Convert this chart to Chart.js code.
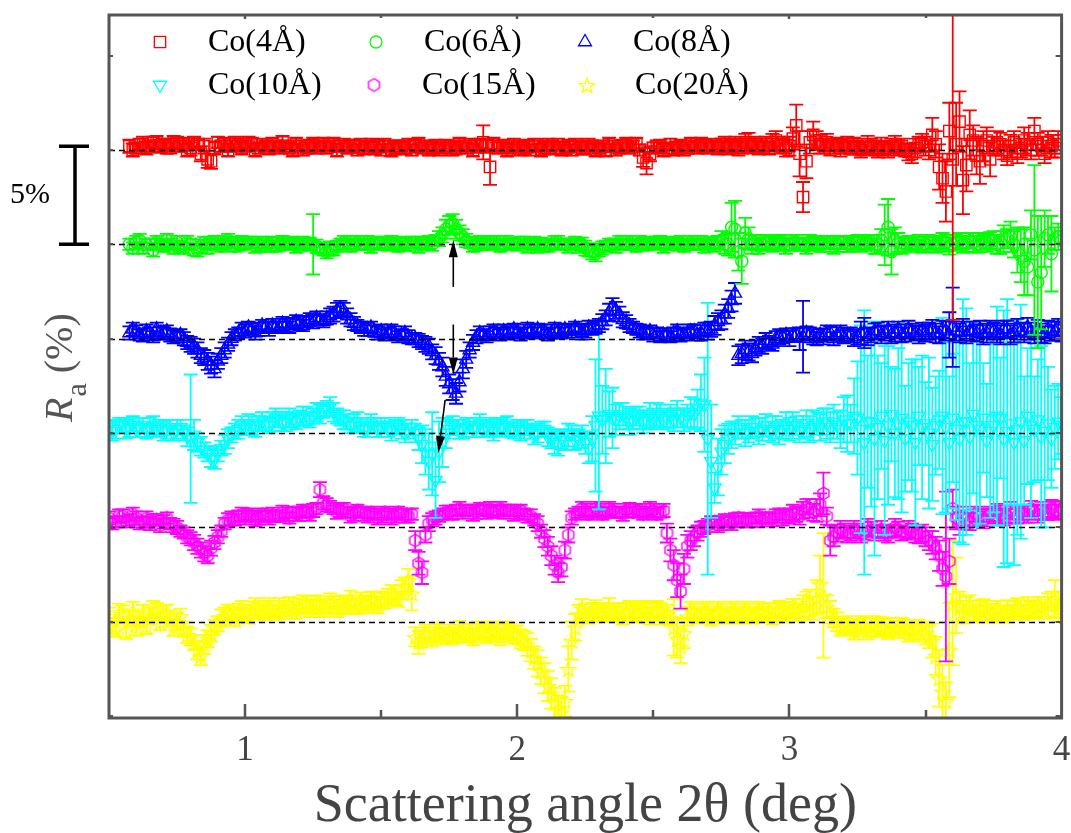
<!DOCTYPE html>
<html><head><meta charset="utf-8">
<script src="https://cdn.jsdelivr.net/npm/chart.js@4.4.1/dist/chart.umd.min.js"></script>
<style>html,body{margin:0;padding:0;background:#fff;}#wrap{width:1071px;height:833px;position:relative;}</style>
</head><body><div id="wrap"><canvas id="c"></canvas></div>
<script>
// ---------------- data ----------------
// two interleaved measurement grids (2θ in degrees)
const angle2theta = [
0.5,0.525,0.55,0.575,0.6,0.625,0.65,0.675,0.7,0.725,
0.75,0.775,0.8,0.825,0.85,0.875,0.9,0.925,0.95,0.975,
1,1.025,1.05,1.075,1.1,1.125,1.15,1.175,1.2,1.225,
1.25,1.275,1.3,1.325,1.35,1.375,1.4,1.425,1.45,1.475,
1.5,1.525,1.55,1.575,1.6,1.625,1.65,1.675,1.7,1.725,
1.75,1.775,1.8,1.825,1.85,1.875,1.9,1.925,1.95,1.975,
2,2.025,2.05,2.075,2.1,2.125,2.15,2.175,2.2,2.225,
2.25,2.275,2.3,2.325,2.35,2.375,2.4,2.425,2.45,2.475,
2.5,2.525,2.55,2.575,2.6,2.625,2.65,2.675,2.7,2.725,
2.75,2.775,2.8,2.825,2.85,2.875,2.9,2.925,2.95,2.975,
3,3.025,3.05,3.075,3.1,3.125,3.15,3.175,3.2,3.225,
3.25,3.275,3.3,3.325,3.35,3.375,3.4,3.425,3.45,3.475,
3.5,3.525,3.55,3.575,3.6,3.625,3.65,3.675,3.7,3.725,
3.75,3.775,3.8,3.825,3.85,3.875,3.9,3.925,3.95,3.975,
4];
const angle2thetaB = [
0.5125,0.5375,0.5625,0.5875,0.6125,0.6375,0.6625,0.6875,0.7125,0.7375,
0.7625,0.7875,0.8125,0.8375,0.8625,0.8875,0.9125,0.9375,0.9625,0.9875,
1.0125,1.0375,1.0625,1.0875,1.1125,1.1375,1.1625,1.1875,1.2125,1.2375,
1.2625,1.2875,1.3125,1.3375,1.3625,1.3875,1.4125,1.4375,1.4625,1.4875,
1.5125,1.5375,1.5625,1.5875,1.6125,1.6375,1.6625,1.6875,1.7125,1.7375,
1.7625,1.7875,1.8125,1.8375,1.8625,1.8875,1.9125,1.9375,1.9625,1.9875,
2.0125,2.0375,2.0625,2.0875,2.1125,2.1375,2.1625,2.1875,2.2125,2.2375,
2.2625,2.2875,2.3125,2.3375,2.3625,2.3875,2.4125,2.4375,2.4625,2.4875,
2.5125,2.5375,2.5625,2.5875,2.6125,2.6375,2.6625,2.6875,2.7125,2.7375,
2.7625,2.7875,2.8125,2.8375,2.8625,2.8875,2.9125,2.9375,2.9625,2.9875,
3.0125,3.0375,3.0625,3.0875,3.1125,3.1375,3.1625,3.1875,3.2125,3.2375,
3.2625,3.2875,3.3125,3.3375,3.3625,3.3875,3.4125,3.4375,3.4625,3.4875,
3.5125,3.5375,3.5625,3.5875,3.6125,3.6375,3.6625,3.6875,3.7125,3.7375,
3.7625,3.7875,3.8125,3.8375,3.8625,3.8875,3.9125,3.9375,3.9625,3.9875];

const seriesNames = ['Co(4Å)','Co(6Å)','Co(8Å)','Co(10Å)','Co(15Å)','Co(20Å)'];
const seriesOffsets = [25,20,15,10,5,0];   // vertical shift of each curve (%)

// ---- Co(4Å)
const co4 = [
null,null,null,0.2,0.1,0.3,0.2,0.4,0.3,0.2,
0.4,0.3,0.1,0.3,0.2,-0.6,0.4,0.3,0.2,0.3,
0.2,0.3,0.1,0.2,0.3,0.1,0.2,0.0,0.2,0.1,
0.3,0.2,0.1,0.3,0.2,0.1,0.2,0.3,0.2,0.1,
0.0,0.2,0.1,0.2,0.3,0.2,0.1,0.0,0.2,0.1,
0.2,0.1,0.2,0.3,0.2,0.4,-0.9,0.1,0.2,0.1,
0.2,0.1,0.0,0.2,0.1,0.2,0.3,0.1,0.0,0.2,
0.1,0.2,0.1,0.0,0.2,0.1,0.3,0.2,0.0,-0.7,
0.1,0.2,0.1,0.0,0.2,0.1,0.2,0.3,0.1,0.2,
0.2,0.1,0.3,0.2,0.4,0.3,0.2,0.1,0.5,0.3,
0.2,1.3,-2.5,0.4,0.5,0.2,0.1,0.3,0.2,0.1,
0.2,0.1,0.2,0.0,0.1,0.2,0.1,0.0,-0.2,0.3,
0.2,0.8,-0.9,-2.2,-0.5,1.5,-0.8,0.5,-0.6,0.5,
0.2,0.3,-0.3,0.4,0.1,0.3,1.0,0.2,0.4,0.1,
0.3];
const co4Err = [
null,null,null,0.35,0.3,0.4,0.3,0.35,0.3,0.4,
0.3,0.35,0.4,0.3,0.4,0.4,0.3,0.35,0.3,0.3,
0.3,0.35,0.3,0.3,0.35,0.3,0.3,0.35,0.3,0.3,
0.35,0.3,0.3,0.35,0.3,0.3,0.35,0.3,0.3,0.35,
0.3,0.3,0.35,0.3,0.3,0.35,0.3,0.3,0.35,0.3,
0.3,0.35,0.3,0.3,0.35,0.9,0.95,0.3,0.35,0.3,
0.3,0.35,0.3,0.3,0.35,0.3,0.3,0.35,0.3,0.3,
0.35,0.3,0.3,0.35,0.3,0.3,0.35,0.3,0.3,0.6,
0.3,0.35,0.3,0.3,0.35,0.3,0.3,0.35,0.3,0.3,
0.4,0.35,0.4,0.4,0.5,0.4,0.4,0.35,0.5,0.4,
0.5,1.1,0.8,0.6,0.5,0.4,0.4,0.35,0.4,0.35,
0.4,0.35,0.4,0.4,0.35,0.4,0.4,0.35,0.5,0.4,
0.5,0.9,1.2,1.6,8.5,1.6,1.4,0.8,1.2,0.7,
0.5,0.6,0.5,0.6,0.5,0.6,0.7,0.5,0.6,0.5,
0.5];
const co4B = [
null,null,null,0.0,0.3,0.1,0.4,0.2,0.1,0.4,
0.2,0.0,0.4,-0.2,-0.5,0.1,0.2,0.0,0.4,0.1,
0.4,0.0,0.3,0.1,0.2,0.4,0.1,0.3,0.0,0.2,
0.1,0.3,0.2,0.0,0.3,0.2,0.0,0.1,0.3,0.2,
0.3,0.0,0.2,0.1,0.0,0.3,0.2,0.1,0.0,0.2,
0.0,0.3,0.1,0.0,0.3,0.2,0.3,0.2,0.0,0.3,
0.0,0.2,0.3,0.0,0.3,0.1,0.0,0.2,0.3,0.1,
0.3,0.0,0.2,0.3,0.0,0.2,0.1,0.3,-0.4,-0.2,
0.2,0.0,0.3,0.1,0.0,0.3,0.1,0.2,0.3,0.1,
0.3,0.2,0.1,0.4,0.2,0.1,0.3,0.4,0.2,0.1,
0.6,-0.2,-0.6,0.8,0.3,0.4,0.2,0.1,0.3,0.2,
0.0,0.3,0.1,0.2,0.0,0.3,0.2,-0.1,0.1,0.4,
0.0,0.3,-1.5,1.0,0.3,-1.6,0.8,-0.3,0.2,-0.5,
0.4,0.0,0.2,-0.2,0.5,0.0,0.3,-0.2,0.2,0.5];
const co4BErr = [
null,null,null,0.35,0.3,0.35,0.3,0.35,0.3,0.35,
0.3,0.35,0.3,0.4,0.45,0.35,0.3,0.35,0.3,0.35,
0.3,0.35,0.3,0.35,0.3,0.35,0.3,0.35,0.3,0.35,
0.3,0.35,0.3,0.35,0.3,0.35,0.3,0.35,0.3,0.35,
0.3,0.35,0.3,0.35,0.3,0.35,0.3,0.35,0.3,0.35,
0.3,0.35,0.3,0.35,0.3,0.35,0.35,0.3,0.35,0.3,
0.3,0.35,0.3,0.35,0.3,0.35,0.3,0.35,0.3,0.35,
0.3,0.35,0.3,0.35,0.3,0.35,0.3,0.35,0.5,0.4,
0.3,0.35,0.3,0.35,0.3,0.35,0.3,0.35,0.3,0.35,
0.4,0.35,0.4,0.45,0.4,0.35,0.4,0.45,0.4,0.45,
0.6,1.2,0.9,0.7,0.5,0.45,0.4,0.45,0.4,0.45,
0.4,0.45,0.4,0.45,0.4,0.45,0.4,0.45,0.5,0.45,
0.5,0.7,1.3,1.5,2.2,1.8,1.3,1.0,0.8,0.9,
0.6,0.5,0.6,0.5,0.7,0.5,0.6,0.5,0.6,0.5];

// ---- Co(6Å)
const co6 = [
null,null,null,0.0,0.1,-0.2,0.0,0.1,-0.1,0.0,
0.1,-0.2,0.0,-0.3,0.1,0.0,0.1,0.0,0.1,0.0,
0.0,0.1,0.0,-0.1,0.1,0.0,0.0,0.1,0.0,0.0,
0.0,-0.2,-0.4,-0.3,0.0,0.1,0.0,0.0,0.1,0.0,
0.1,0.0,0.0,0.1,0.0,0.1,0.0,0.1,0.2,0.5,
1.0,0.8,0.4,0.1,0.0,0.1,0.0,0.1,0.0,0.0,
0.0,0.1,0.0,-0.1,0.0,0.0,0.1,0.0,0.0,-0.1,
-0.2,-0.4,-0.3,-0.1,0.0,0.1,0.0,0.0,0.1,0.0,
0.0,0.1,0.0,0.0,0.1,0.0,0.0,0.1,0.0,0.0,
0.2,0.0,0.8,-0.9,0.3,0.1,0.0,0.1,0.0,0.1,
0.0,0.1,0.0,0.1,0.0,0.0,0.1,0.0,0.1,0.0,
0.1,0.0,0.1,0.0,0.5,-0.4,0.1,0.0,0.0,0.1,
0.0,0.1,0.0,0.1,0.0,0.2,0.0,0.1,0.0,0.1,
0.2,0.1,0.3,0.0,-0.6,-1.2,-0.3,-1.5,0.5,0.3,
0.2];
const co6Err = [
null,null,null,0.3,0.35,0.3,0.3,0.35,0.3,0.3,
0.35,0.3,0.3,0.35,0.3,0.3,0.35,0.3,0.3,0.35,
0.3,0.3,0.35,0.3,0.3,0.35,0.3,0.3,0.35,0.3,
1.6,0.3,0.35,0.3,0.3,0.35,0.3,0.3,0.35,0.3,
0.3,0.35,0.3,0.3,0.35,0.3,0.3,0.35,0.3,0.4,
0.5,0.5,0.4,0.3,0.35,0.3,0.3,0.35,0.3,0.3,
0.35,0.3,0.3,0.35,0.3,0.3,0.35,0.3,0.3,0.35,
0.4,0.4,0.35,0.3,0.3,0.35,0.3,0.3,0.35,0.3,
0.3,0.35,0.3,0.3,0.35,0.3,0.3,0.35,0.3,0.4,
0.5,0.6,1.5,1.2,0.6,0.4,0.35,0.4,0.35,0.4,
0.35,0.4,0.35,0.4,0.35,0.4,0.35,0.4,0.35,0.4,
0.4,0.35,0.4,0.5,1.6,1.2,0.5,0.4,0.35,0.4,
0.4,0.35,0.4,0.4,0.35,0.4,0.4,0.5,0.4,0.5,
0.5,0.6,0.5,0.7,1.4,1.5,4.5,3.0,1.0,0.6,
0.5];
const co6B = [
null,null,null,-0.2,0.2,0.0,-0.3,0.0,0.2,-0.2,
-0.1,0.1,-0.3,-0.1,-0.2,0.1,-0.1,0.2,-0.1,0.1,
0.1,-0.1,0.1,0.0,-0.1,0.1,0.0,-0.1,0.1,0.0,
-0.1,-0.3,-0.2,-0.1,0.1,-0.1,0.1,0.0,-0.1,0.1,
0.0,0.1,-0.1,0.0,0.1,-0.1,0.1,0.0,0.3,0.8,
1.1,0.6,0.2,-0.1,0.1,0.0,0.1,-0.1,0.1,0.0,
0.1,-0.1,0.1,0.0,-0.1,0.1,0.0,-0.1,0.1,0.0,
-0.3,-0.5,-0.2,0.0,-0.1,0.0,0.1,-0.1,0.0,0.1,
0.1,-0.1,0.1,0.0,-0.1,0.1,0.0,-0.1,0.1,0.1,
0.0,0.9,-0.4,0.6,0.0,-0.1,0.1,0.0,0.1,-0.1,
0.1,0.0,-0.1,0.1,0.0,0.1,-0.1,0.1,0.0,0.1,
0.0,0.1,-0.1,0.2,0.9,0.2,-0.1,0.1,0.0,-0.1,
0.1,0.0,0.2,-0.1,0.1,0.0,0.2,0.0,0.1,0.2,
0.0,0.3,0.4,-0.3,-0.9,0.5,-2.0,0.3,-0.5,0.4];
const co6BErr = [
null,null,null,0.3,0.35,0.3,0.35,0.3,0.35,0.3,
0.3,0.35,0.3,0.35,0.3,0.35,0.3,0.35,0.3,0.35,
0.3,0.35,0.3,0.35,0.3,0.35,0.3,0.35,0.3,0.35,
0.35,0.3,0.35,0.3,0.35,0.3,0.35,0.3,0.35,0.3,
0.3,0.35,0.3,0.35,0.3,0.35,0.3,0.35,0.4,0.5,
0.5,0.4,0.35,0.3,0.35,0.3,0.35,0.3,0.35,0.3,
0.3,0.35,0.3,0.35,0.3,0.35,0.3,0.35,0.3,0.35,
0.35,0.4,0.35,0.3,0.35,0.3,0.35,0.3,0.35,0.3,
0.3,0.35,0.3,0.35,0.3,0.35,0.3,0.35,0.3,0.35,
0.5,1.3,1.0,0.8,0.5,0.4,0.35,0.4,0.35,0.4,
0.4,0.35,0.4,0.35,0.4,0.35,0.4,0.35,0.4,0.35,
0.4,0.35,0.4,0.6,1.5,0.7,0.4,0.35,0.4,0.35,
0.4,0.45,0.4,0.45,0.4,0.45,0.4,0.45,0.4,0.45,
0.5,0.7,0.8,1.2,1.8,1.3,3.5,1.5,2.0,0.7];

// ---- Co(8Å)
const co8 = [
null,null,null,0.3,0.4,0.2,0.3,0.5,0.3,0.2,
0.1,0.0,-0.3,-0.6,-1.0,-1.4,-1.2,-0.6,0.0,0.3,
0.4,0.5,0.5,0.6,0.7,0.6,0.7,0.8,0.8,0.9,
0.9,1.0,1.1,1.3,1.6,1.2,0.8,0.6,0.5,0.4,
0.4,0.3,0.3,0.2,0.1,0.0,-0.2,-0.4,-0.9,-1.5,
-2.4,-2.9,-1.6,-0.6,0.1,0.2,0.3,0.3,0.4,0.3,
0.4,0.3,0.4,0.5,0.4,0.3,0.4,0.5,0.4,0.5,
0.4,0.5,0.7,1.1,1.7,1.3,0.9,0.6,0.4,0.3,
0.2,0.1,0.2,0.3,0.2,0.3,0.4,0.3,0.4,0.7,
1.0,1.6,2.4,-0.8,-0.7,-0.5,-0.4,-0.2,0.0,0.1,
0.0,0.2,0.1,0.2,0.0,0.1,0.3,0.2,0.1,0.2,
0.1,0.3,0.2,0.4,0.3,0.2,0.5,0.3,0.4,0.2,
0.3,0.5,0.2,0.4,0.6,0.3,0.2,0.4,0.5,0.3,
0.4,0.2,0.5,0.3,0.4,0.6,0.2,0.3,0.5,0.4,
0.3];
const co8Err = [
null,null,null,0.35,0.3,0.35,0.3,0.35,0.3,0.35,
0.3,0.35,0.4,0.4,0.4,0.45,0.4,0.4,0.35,0.3,
0.35,0.3,0.35,0.3,0.35,0.3,0.35,0.3,0.35,0.3,
0.35,0.3,0.35,0.4,0.4,0.4,0.35,0.3,0.35,0.3,
0.35,0.3,0.35,0.3,0.35,0.3,0.35,0.4,0.45,0.5,
0.5,0.55,0.5,0.4,0.35,0.3,0.35,0.3,0.35,0.3,
0.35,0.3,0.35,0.3,0.35,0.3,0.35,0.3,0.35,0.3,
0.35,0.3,0.35,0.4,0.45,0.4,0.35,0.3,0.35,0.3,
0.35,0.3,0.35,0.3,0.35,0.3,0.35,0.4,0.45,0.5,
0.5,0.5,0.55,0.5,0.45,0.4,0.4,0.35,0.4,0.35,
0.4,0.35,1.9,0.4,0.35,0.4,0.35,0.4,0.35,0.4,
0.4,0.8,0.4,0.45,0.4,0.45,0.4,0.45,0.4,0.45,
0.45,0.5,0.45,0.5,2.1,0.5,0.45,0.5,0.45,0.5,
0.45,0.5,0.45,0.5,0.45,0.5,0.45,0.5,0.45,0.5,
0.45];
const co8B = [
null,null,null,0.5,0.2,0.4,0.1,0.3,0.4,0.1,
0.2,-0.2,-0.4,-0.9,-1.2,-1.6,-0.9,-0.3,0.2,0.5,
0.6,0.3,0.7,0.5,0.6,0.8,0.6,0.9,0.7,1.0,
1.1,0.9,1.2,1.5,1.5,1.0,0.7,0.5,0.6,0.3,
0.2,0.4,0.1,0.3,0.0,-0.1,-0.3,-0.7,-1.2,-2.0,
-2.7,-2.3,-1.1,-0.2,0.3,0.1,0.4,0.2,0.3,0.5,
0.2,0.5,0.3,0.4,0.2,0.5,0.3,0.4,0.6,0.3,
0.6,0.6,0.9,1.4,1.5,1.0,0.7,0.5,0.3,0.4,
0.3,0.2,0.1,0.4,0.2,0.4,0.2,0.5,0.5,0.9,
1.3,2.0,-0.9,-0.6,-0.8,-0.3,-0.1,-0.3,0.1,0.2,
0.2,0.0,0.3,0.1,0.2,0.3,0.0,0.3,0.2,0.0,
0.3,0.1,0.4,0.2,0.5,0.3,0.2,0.5,0.3,0.4,
0.4,0.3,0.5,0.2,0.4,0.6,0.4,0.3,0.2,0.5,
0.3,0.5,0.2,0.6,0.3,0.4,0.5,0.2,0.4,0.6];
const co8BErr = [
null,null,null,0.35,0.3,0.35,0.3,0.35,0.3,0.35,
0.3,0.35,0.4,0.4,0.45,0.45,0.4,0.35,0.3,0.35,
0.3,0.35,0.3,0.35,0.3,0.35,0.3,0.35,0.3,0.35,
0.35,0.3,0.4,0.4,0.4,0.35,0.3,0.35,0.3,0.35,
0.3,0.35,0.3,0.35,0.3,0.35,0.4,0.4,0.45,0.5,
0.55,0.5,0.45,0.4,0.35,0.3,0.35,0.3,0.35,0.3,
0.3,0.35,0.3,0.35,0.3,0.35,0.3,0.35,0.3,0.35,
0.35,0.35,0.4,0.45,0.45,0.4,0.35,0.3,0.35,0.3,
0.3,0.35,0.3,0.35,0.3,0.35,0.3,0.35,0.4,0.45,
0.5,0.55,0.5,0.5,0.45,0.4,0.4,0.35,0.4,0.35,
0.35,0.6,0.35,0.4,0.35,0.4,0.35,0.4,0.35,0.4,
0.6,0.45,0.4,0.45,0.4,0.45,0.4,0.45,0.4,0.45,
0.45,0.5,0.45,1.2,0.5,0.45,0.5,0.45,0.5,0.45,
0.5,0.45,0.5,0.45,0.5,0.45,0.5,0.45,0.5,0.45];

// ---- Co(10Å)
const co10 = [
0.3,0.2,0.4,0.3,0.2,0.4,0.3,0.2,0.1,0.3,
0.2,0.0,-0.3,-0.5,-0.9,-1.3,-1.1,-0.6,-0.1,0.2,
0.3,0.4,0.5,0.5,0.6,0.7,0.6,0.7,0.8,0.9,
0.9,1.0,1.3,1.1,0.8,0.6,0.5,0.4,0.3,0.4,
0.3,0.2,0.3,0.2,0.1,0.0,-0.6,-1.5,-2.5,-0.5,
0.2,0.3,0.2,0.4,0.3,0.2,0.3,0.4,0.3,0.2,
0.3,0.2,0.1,0.0,0.2,-0.3,-0.6,-0.4,0.0,-0.3,
-0.5,-0.3,0.9,0.9,0.8,0.9,0.8,0.7,0.8,0.7,
0.8,0.9,0.8,0.7,0.8,0.9,1.0,1.6,-0.3,-2.9,
-1.0,-0.3,0.0,0.2,0.1,0.3,0.2,0.1,0.3,0.2,
0.2,0.4,0.3,0.2,0.5,0.6,0.3,0.4,0.7,0.5,
0.8,-0.5,0.6,0.3,-0.4,1.0,0.5,-0.3,0.4,0.9,
0.5,-0.6,0.7,0.3,0.8,-0.3,0.6,1.0,0.2,-0.4,
0.4,0.8,0.1,-0.5,0.6,0.9,0.2,-0.2,0.5,0.3,
0.4];
const co10Err = [
0.4,0.5,0.4,0.5,0.4,0.4,0.5,0.4,0.5,0.4,
0.5,0.4,3.4,0.5,0.4,0.5,0.4,0.5,0.4,0.5,
0.4,0.5,0.4,0.4,0.5,0.4,0.5,0.4,0.4,0.5,
0.4,0.5,0.4,0.5,0.4,0.4,0.5,0.4,0.5,0.4,
0.5,0.4,0.4,0.5,0.4,0.5,1.0,1.5,2.0,1.3,
0.5,0.4,0.5,0.4,0.5,0.4,0.5,0.4,0.5,0.4,
0.4,0.5,0.4,0.5,0.4,0.5,0.6,0.5,0.4,0.5,
0.6,1.2,4.95,2.5,1.6,0.7,0.6,0.5,0.6,0.5,
0.5,0.6,0.5,0.6,0.5,0.6,0.8,1.5,7.2,0.8,
1.2,0.8,0.6,0.5,0.6,0.5,0.6,0.5,0.6,0.5,
0.6,0.5,0.6,0.7,0.6,0.7,0.8,0.7,1.2,1.0,
3.0,7.0,4.5,3.8,5.0,2.5,4.0,2.8,3.5,2.6,
2.2,3.0,2.6,4.5,3.4,5.5,6.0,4.2,5.0,3.0,
4.6,3.2,7.0,6.5,6.2,3.6,2.8,4.8,3.0,2.2,
1.5];
const co10B = [
0.1,0.4,0.2,0.5,0.3,0.1,0.4,0.3,0.2,0.0,
0.3,-0.2,-0.1,-0.7,-1.1,-1.4,-0.8,-0.3,0.1,0.4,
0.5,0.2,0.6,0.4,0.8,0.5,0.8,0.6,0.9,0.7,
1.1,1.2,1.4,0.9,0.7,0.4,0.6,0.2,0.5,0.2,
0.4,0.1,0.4,0.0,0.3,-0.3,-1.0,-1.1,-1.0,0.0,
0.4,0.1,0.3,0.2,0.5,0.3,0.1,0.3,0.4,0.1,
0.1,0.3,-0.1,0.2,-0.2,-0.5,-0.3,-0.1,-0.4,-0.2,
-0.8,0.4,0.7,1.0,0.7,1.0,0.6,0.9,0.6,0.9,
1.0,0.7,0.9,1.0,0.7,1.1,1.3,1.5,-1.5,-1.8,
-0.6,-0.1,0.3,0.0,0.3,0.1,0.4,0.2,0.0,0.4,
0.4,0.1,0.5,0.4,0.3,0.5,0.6,0.2,0.5,0.9,
0.2,0.6,-0.3,0.9,0.4,0.0,0.8,0.6,-0.5,0.3,
0.0,0.4,0.9,-0.5,0.2,0.6,-0.2,0.4,0.8,0.1,
0.9,-0.3,0.5,0.2,-0.4,0.4,0.7,0.1,-0.3,0.6];
const co10BErr = [
0.5,0.4,0.5,0.4,0.5,0.4,0.5,0.4,0.5,0.4,
0.4,0.5,0.8,0.5,0.4,0.5,0.4,0.5,0.4,0.5,
0.5,0.4,0.5,0.4,0.5,0.4,0.5,0.4,0.5,0.4,
0.5,0.4,0.5,0.4,0.5,0.4,0.5,0.4,0.5,0.4,
0.4,0.5,0.4,0.5,0.4,0.6,1.2,2.2,1.6,0.8,
0.5,0.4,0.5,0.4,0.5,0.4,0.5,0.4,0.5,0.4,
0.5,0.4,0.5,0.4,0.5,0.6,0.5,0.6,0.5,0.6,
0.8,3.5,1.8,1.2,0.8,0.6,0.7,0.5,0.6,0.7,
0.6,0.5,0.6,0.7,0.6,0.8,1.0,2.5,3.0,1.5,
1.0,0.7,0.6,0.7,0.6,0.7,0.6,0.7,0.6,0.7,
0.7,0.6,0.7,0.8,0.7,0.8,0.9,1.0,1.5,2.0,
5.5,3.5,6.2,2.8,4.2,3.4,5.0,3.1,4.4,3.8,
4.0,2.6,5.2,3.5,4.8,6.5,3.9,5.4,2.9,4.6,
5.8,6.8,4.3,5.6,3.4,4.9,3.2,5.1,2.6,2.0];

// ---- Co(15Å)
const co15 = [
0.5,0.3,0.6,0.4,0.5,0.3,0.2,0.4,0.3,0.2,
0.0,-0.3,-0.6,-1.0,-1.4,-1.1,-0.5,0.2,0.5,0.6,
0.5,0.6,0.5,0.6,0.7,0.6,0.7,0.8,0.7,0.8,
0.9,2.0,1.2,1.0,0.9,0.8,0.7,0.8,0.6,0.7,
0.6,0.7,0.6,0.7,0.6,-0.7,-2.4,0.2,0.5,0.7,
0.8,0.9,0.8,0.9,0.8,0.9,1.0,0.9,0.8,0.9,
0.8,0.7,0.6,0.2,-0.6,-1.5,-2.4,-1.2,0.5,0.8,
0.9,0.8,0.9,0.8,0.9,0.8,0.9,0.8,0.9,0.8,
0.9,0.8,-0.3,-2.0,-3.4,-1.0,-0.5,-0.1,0.1,0.3,
0.2,0.3,0.4,0.3,0.4,0.5,0.4,0.5,0.6,0.5,
0.6,0.7,0.9,1.0,0.9,1.8,-0.7,-0.3,-0.2,-0.3,
-0.2,-0.3,-0.1,-0.2,-0.3,-0.2,-0.1,-0.3,-0.2,-0.4,
-0.5,-0.8,-1.5,-2.6,1.0,0.2,0.4,0.5,0.6,0.5,
0.6,0.7,0.6,0.7,0.8,0.7,0.8,0.9,0.8,0.9,
1.0];
const co15Err = [
0.35,0.3,0.35,0.3,0.35,0.3,0.35,0.3,0.35,0.3,
0.35,0.3,0.35,0.4,0.4,0.4,0.35,0.3,0.35,0.3,
0.35,0.3,0.35,0.3,0.35,0.3,0.35,0.3,0.35,0.3,
0.35,0.4,0.35,0.3,0.35,0.3,0.35,0.3,0.35,0.3,
0.35,0.3,0.35,0.3,0.35,0.5,0.6,0.4,0.35,0.3,
0.35,0.3,0.35,0.3,0.35,0.3,0.35,0.3,0.35,0.3,
0.35,0.3,0.35,0.4,0.45,0.5,0.5,0.45,0.35,0.3,
0.35,0.3,0.35,0.3,0.35,0.3,0.35,0.3,0.35,0.3,
0.35,0.3,0.5,0.8,0.9,0.6,0.5,0.4,0.35,0.3,
0.35,0.3,0.35,0.3,0.35,0.3,0.35,0.3,0.35,0.4,
0.4,0.4,0.45,0.5,0.6,1.1,0.8,0.45,0.4,0.4,
0.4,0.35,0.4,0.35,0.4,0.35,0.4,0.35,0.4,0.45,
0.5,0.6,0.8,4.5,1.0,0.6,0.5,0.45,0.4,0.45,
0.4,0.45,0.4,0.45,0.4,0.45,0.4,0.45,0.4,0.45,
0.4];
const co15B = [
0.2,0.6,0.3,0.7,0.2,0.5,0.4,0.1,0.5,0.1,
-0.2,-0.5,-0.8,-1.2,-1.5,-0.8,-0.2,0.4,0.4,0.7,
0.7,0.4,0.7,0.5,0.6,0.8,0.5,0.7,0.9,0.7,
1.0,1.3,1.1,0.8,1.0,0.6,0.9,0.7,0.8,0.5,
0.8,0.5,0.8,0.6,0.7,-1.9,-0.4,0.4,0.6,0.8,
0.7,1.0,0.9,0.7,1.0,0.8,0.8,1.0,0.9,0.7,
0.9,0.6,0.4,-0.2,-1.0,-2.0,-2.1,-0.4,0.7,1.0,
0.7,1.0,0.7,1.0,0.8,0.7,1.0,0.9,0.7,1.0,
0.7,0.9,-1.2,-2.8,-2.2,-0.7,-0.3,0.0,0.3,0.1,
0.4,0.2,0.5,0.4,0.3,0.6,0.5,0.4,0.7,0.6,
0.8,0.6,1.1,0.8,1.2,0.6,-0.5,-0.1,-0.4,-0.1,
-0.4,0.0,-0.3,-0.1,-0.4,0.0,-0.3,-0.1,-0.4,-0.3,
-0.7,-1.1,-2.2,-1.8,0.5,0.6,0.3,0.7,0.4,0.7,
0.8,0.5,0.9,0.6,0.7,1.0,0.7,0.8,1.0,0.8];
const co15BErr = [
0.3,0.35,0.3,0.35,0.3,0.35,0.3,0.35,0.3,0.35,
0.3,0.35,0.4,0.4,0.4,0.35,0.3,0.35,0.3,0.35,
0.3,0.35,0.3,0.35,0.3,0.35,0.3,0.35,0.3,0.35,
0.3,0.35,0.3,0.35,0.3,0.35,0.3,0.35,0.3,0.35,
0.3,0.35,0.3,0.35,0.3,0.6,0.4,0.35,0.3,0.35,
0.3,0.35,0.3,0.35,0.3,0.35,0.3,0.35,0.3,0.35,
0.3,0.35,0.3,0.35,0.5,0.5,0.5,0.4,0.3,0.35,
0.3,0.35,0.3,0.35,0.3,0.35,0.3,0.35,0.3,0.35,
0.3,0.35,0.6,0.9,0.8,0.5,0.4,0.35,0.3,0.35,
0.3,0.35,0.3,0.35,0.3,0.35,0.3,0.35,0.3,0.35,
0.4,0.45,0.4,0.45,0.6,0.45,0.5,0.45,0.4,0.45,
0.4,0.45,0.4,0.45,0.4,0.45,0.4,0.45,0.4,0.45,
0.5,0.6,0.9,1.2,0.6,0.5,0.45,0.4,0.45,0.4,
0.45,0.4,0.45,0.4,0.45,0.4,0.45,0.4,0.45,0.4];

// ---- Co(20Å)
const co20 = [
0.3,-0.4,0.4,0.2,-0.3,0.5,0.3,0.6,0.4,0.2,
0.0,-0.4,-0.8,-1.5,-1.2,-0.6,-0.1,0.3,0.4,0.5,
0.5,0.6,0.7,0.6,0.7,0.8,0.7,0.8,0.8,0.9,
0.8,0.9,0.8,0.9,1.0,0.9,1.0,1.1,1.0,1.1,
1.2,1.3,1.4,1.7,2.2,-0.8,-0.9,-0.7,-0.6,-0.7,
-0.6,-0.7,-0.6,-0.5,-0.6,-0.5,-0.6,-0.5,-0.6,-0.5,
-0.7,-1.0,-1.5,-2.2,-3.0,-3.8,-4.6,-4.2,-1.0,0.4,
0.5,0.6,0.5,0.6,0.5,0.6,0.5,0.6,0.5,0.6,
0.5,0.6,0.4,-0.3,-1.3,0.3,0.5,0.4,0.5,0.4,
0.5,0.4,0.5,0.4,0.5,0.4,0.5,0.6,0.5,0.6,
0.6,0.7,0.8,1.0,1.3,1.4,0.5,0.0,-0.2,-0.3,
-0.3,-0.2,-0.3,-0.4,-0.3,-0.2,-0.4,-0.3,-0.5,-0.4,
-0.6,-1.0,-3.0,-4.2,1.0,0.8,0.7,0.6,0.7,0.6,
0.5,0.6,0.7,0.6,0.7,0.8,0.7,0.8,0.9,1.2,
1.0];
const co20Err = [
0.45,0.4,0.45,0.4,0.45,0.4,0.45,0.4,0.45,0.4,
0.45,0.4,0.45,0.5,0.5,0.45,0.4,0.45,0.4,0.45,
0.4,0.45,0.4,0.45,0.4,0.45,0.4,0.45,0.4,0.45,
0.4,0.45,0.4,0.45,0.4,0.45,0.4,0.45,0.4,0.45,
0.4,0.45,0.5,0.5,0.6,0.5,0.45,0.4,0.45,0.4,
0.45,0.4,0.45,0.4,0.45,0.4,0.45,0.4,0.45,0.4,
0.5,0.5,0.6,0.7,0.8,0.8,0.7,0.8,1.0,0.5,
0.45,0.4,0.45,0.4,0.45,0.4,0.45,0.4,0.45,0.4,
0.45,0.4,0.5,1.5,0.9,0.5,0.45,0.4,0.45,0.4,
0.45,0.4,0.45,0.4,0.45,0.4,0.45,0.4,0.45,0.4,
0.45,0.5,0.6,0.7,0.9,3.3,0.6,0.5,0.45,0.4,
0.45,0.4,0.45,0.4,0.45,0.4,0.45,0.4,0.45,0.5,
0.6,0.9,1.5,1.0,3.3,0.8,0.6,0.5,0.45,0.5,
0.45,0.5,0.45,0.5,0.45,0.5,0.45,0.5,0.6,1.0,
0.6];
const co20B = [
-0.2,0.5,-0.5,0.6,0.1,-0.2,0.7,0.0,0.5,-0.3,
0.3,-0.7,-1.1,-1.8,-0.9,-0.3,0.2,0.5,0.2,0.7,
0.3,0.8,0.5,0.8,0.5,0.6,0.9,0.6,1.0,0.7,
1.0,0.7,1.1,0.7,0.8,1.2,0.8,0.9,1.2,0.9,
1.1,1.5,1.2,1.9,1.5,-1.1,-0.6,-0.9,-0.5,-0.8,
-0.8,-0.4,-0.7,-0.8,-0.4,-0.7,-0.4,-0.8,-0.4,-0.7,
-0.9,-1.2,-1.9,-2.6,-3.4,-4.3,-4.8,-2.5,-0.3,0.7,
0.3,0.7,0.4,0.8,0.4,0.3,0.7,0.4,0.7,0.3,
0.7,0.3,0.2,-0.9,-0.6,0.6,0.3,0.6,0.2,0.6,
0.3,0.6,0.3,0.6,0.3,0.6,0.4,0.3,0.7,0.4,
0.8,0.5,1.1,0.7,2.0,0.8,0.2,-0.3,-0.1,-0.5,
-0.1,-0.5,-0.1,-0.2,-0.5,-0.4,-0.2,-0.6,-0.3,-0.6,
-0.8,-1.8,-3.7,-1.5,1.4,0.5,0.9,0.4,0.8,0.4,
0.7,0.4,0.5,0.8,0.5,0.6,0.9,0.6,1.1,0.8];
const co20BErr = [
0.4,0.45,0.4,0.45,0.4,0.45,0.4,0.45,0.4,0.45,
0.4,0.45,0.4,0.5,0.45,0.4,0.45,0.4,0.45,0.4,
0.4,0.45,0.4,0.45,0.4,0.45,0.4,0.45,0.4,0.45,
0.4,0.45,0.4,0.45,0.4,0.45,0.4,0.45,0.4,0.45,
0.4,0.45,0.4,0.45,0.9,0.6,0.45,0.4,0.45,0.4,
0.4,0.45,0.4,0.45,0.4,0.45,0.4,0.45,0.4,0.45,
0.5,0.6,0.6,0.7,0.8,0.8,0.8,1.2,0.7,0.5,
0.4,0.45,0.4,0.45,0.4,0.45,0.4,0.45,0.4,0.45,
0.4,0.45,0.4,1.0,0.8,0.45,0.4,0.45,0.4,0.45,
0.4,0.45,0.4,0.45,0.4,0.45,0.4,0.45,0.4,0.45,
0.4,0.45,0.5,0.6,1.5,0.6,0.5,0.45,0.4,0.45,
0.4,0.45,0.4,0.45,0.4,0.45,0.4,0.45,0.4,0.45,
0.6,1.0,1.4,2.5,2.0,0.6,0.5,0.45,0.4,0.45,
0.4,0.45,0.4,0.45,0.4,0.45,0.4,0.45,0.5,0.8];

const seriesValues  = [co4, co6, co8, co10, co15, co20];
const seriesErrors  = [co4Err, co6Err, co8Err, co10Err, co15Err, co20Err];
const seriesValuesB = [co4B, co6B, co8B, co10B, co15B, co20B];
const seriesErrorsB = [co4BErr, co6BErr, co8BErr, co10BErr, co15BErr, co20BErr];
const yTickValues = [-5,0,5,10,15,20,25,30];
const scaleBarRange = [20, 25.2];        // the "5%" bar
const arrowsData = [                      // [x1,y1,x2,y2] in data units
  [1.765,17.74,1.765,20.22],
  [1.765,15.75,1.765,13.1],
  [1.735,11.75,1.71,8.94]
];

// ---------------- styles ----------------
const colors = ['#ff0000','#00ff00','#0000ff','#00ffff','#ff00ff','#ffff00'];
const SERIF = '"Liberation Serif","Times New Roman",serif';

function makeMarker(kind, color, size){
  const c = document.createElement('canvas');
  c.width = size; c.height = size;
  const g = c.getContext('2d');
  g.strokeStyle = color; g.lineWidth = 1.4; g.lineJoin = 'miter';
  const cx = size/2, cy = size/2, r = size/2 - 1.2;
  g.beginPath();
  if (kind === 'hex') {
    for (let k = 0; k < 6; k++) {
      const a = -Math.PI/2 + k*Math.PI/3;
      const px = cx + r*Math.cos(a), py = cy + r*Math.sin(a);
      k ? g.lineTo(px,py) : g.moveTo(px,py);
    }
  } else {
    for (let k = 0; k < 10; k++) {
      const a = -Math.PI/2 + k*Math.PI/5;
      const rr = k % 2 ? r*0.42 : r;
      const px = cx + rr*Math.cos(a), py = cy + 1 + rr*Math.sin(a);
      k ? g.lineTo(px,py) : g.moveTo(px,py);
    }
  }
  g.closePath(); g.stroke();
  return c;
}
const hexMarker = makeMarker('hex', colors[4], 15);
const starMarker = makeMarker('star', colors[5], 18);
const markerDefs = [
  {style:'rect', radius:8, rot:0},
  {style:'circle', radius:6, rot:0},
  {style:'triangle', radius:7.5, rot:0},
  {style:'triangle', radius:7.5, rot:180},
  {style:hexMarker, radius:7, rot:0},
  {style:starMarker, radius:8, rot:0}
];

function buildPoints(s) {
  const pts = [];
  angle2theta.forEach((x, i) => pts.push({x, v: seriesValues[s][i], e: seriesErrors[s][i]}));
  angle2thetaB.forEach((x, i) => pts.push({x, v: seriesValuesB[s][i], e: seriesErrorsB[s][i]}));
  pts.sort((a, b) => a.x - b.x);
  return pts.map(p => ({x: p.x, y: p.v === null ? null : p.v + seriesOffsets[s], e: p.e}));
}

const datasets = seriesNames.map((name, s) => ({
  label: name,
  data: buildPoints(s),
  showLine: false,
  pointStyle: markerDefs[s].style,
  pointRadius: markerDefs[s].radius,
  pointHoverRadius: markerDefs[s].radius,
  pointRotation: markerDefs[s].rot,
  borderColor: colors[s],
  backgroundColor: 'rgba(0,0,0,0)',
  pointBorderWidth: 1.4
}));

// ---------------- plugins ----------------
const errorBars = {
  id: 'errorBars',
  beforeDatasetDraw(chart, args) {
    const ds = chart.data.datasets[args.index];
    const xs = chart.scales.x, ys = chart.scales.y, a = chart.chartArea, ctx = chart.ctx;
    ctx.save();
    ctx.beginPath(); ctx.rect(a.left, a.top, a.right - a.left, a.bottom - a.top); ctx.clip();
    ctx.strokeStyle = ds.borderColor; ctx.lineWidth = 1.8;
    ds.data.forEach(p => {
      if (p.y === null || p.e === null) return;
      const px = xs.getPixelForValue(p.x);
      const t = ys.getPixelForValue(p.y + p.e), b = ys.getPixelForValue(p.y - p.e);
      ctx.beginPath();
      ctx.moveTo(px, t); ctx.lineTo(px, b);
      ctx.moveTo(px - 7, t); ctx.lineTo(px + 7, t);
      ctx.moveTo(px - 7, b); ctx.lineTo(px + 7, b);
      ctx.stroke();
    });
    ctx.restore();
  }
};

const decor = {
  id: 'decor',
  afterDatasetsDraw(chart) {
    const {ctx, chartArea: a} = chart; const xs = chart.scales.x, ys = chart.scales.y;
    ctx.save();
    ctx.strokeStyle = '#000'; ctx.lineWidth = 1.3; ctx.setLineDash([6,4]);
    seriesOffsets.forEach(o => {
      const py = Math.round(ys.getPixelForValue(o)) + 0.5;
      ctx.beginPath(); ctx.moveTo(a.left, py); ctx.lineTo(a.right, py); ctx.stroke();
    });
    ctx.setLineDash([]);
    ctx.fillStyle = '#000'; ctx.lineWidth = 1.6;
    arrowsData.forEach(([x1,y1,x2,y2]) => {
      const p1x = xs.getPixelForValue(x1), p1y = ys.getPixelForValue(y1);
      const p2x = xs.getPixelForValue(x2), p2y = ys.getPixelForValue(y2);
      const ang = Math.atan2(p2y - p1y, p2x - p1x), L = 17, W = 4.5;
      const bx = p2x - L*Math.cos(ang), by = p2y - L*Math.sin(ang);
      ctx.beginPath(); ctx.moveTo(p1x, p1y); ctx.lineTo(bx, by); ctx.stroke();
      ctx.beginPath(); ctx.moveTo(p2x, p2y);
      ctx.lineTo(bx - W*Math.sin(ang), by + W*Math.cos(ang));
      ctx.lineTo(bx + W*Math.sin(ang), by - W*Math.cos(ang));
      ctx.closePath(); ctx.fill();
    });
    ctx.restore();
  },
  afterDraw(chart) {
    const {ctx, chartArea: a} = chart; const xs = chart.scales.x, ys = chart.scales.y;
    ctx.save();
    // frame
    ctx.strokeStyle = '#555'; ctx.lineWidth = 3;
    ctx.strokeRect(a.left, a.top, a.right - a.left, a.bottom - a.top);
    // x ticks (inside, bottom & top)
    ctx.lineWidth = 2.5;
    xs.ticks.forEach(t => {
      if (t.value <= xs.min || t.value >= xs.max) return;
      const px = Math.round(xs.getPixelForValue(t.value));
      const major = Number.isInteger(t.value);
      ctx.beginPath();
      ctx.moveTo(px, a.bottom); ctx.lineTo(px, a.bottom - (major ? 14 : 8));
      ctx.moveTo(px, a.top); ctx.lineTo(px, a.top + (major ? 4 : 3));
      ctx.stroke();
    });
    // y ticks (inside, left & right)
    ctx.lineWidth = 2;
    yTickValues.forEach(v => {
      if (v <= ys.min || v >= ys.max) return;
      const py = Math.round(ys.getPixelForValue(v));
      ctx.beginPath();
      ctx.moveTo(a.right, py); ctx.lineTo(a.right - 6, py);
      ctx.moveTo(a.left, py); ctx.lineTo(a.left + 4, py);
      ctx.stroke();
    });
    // legend
    const legendSlots = [[160,42],[376,42],[585,42],[160,85],[374,85],[587,85]];
    ctx.font = '32px ' + SERIF; ctx.fillStyle = '#000'; ctx.textBaseline = 'middle'; ctx.textAlign = 'left';
    chart.data.datasets.forEach((ds, s) => {
      const [lx, ly] = legendSlots[s];
      ctx.save();
      ctx.strokeStyle = ds.borderColor; ctx.fillStyle = 'rgba(0,0,0,0)'; ctx.lineWidth = 1.3;
      Chart.helpers.drawPoint(ctx, {pointStyle: ds.pointStyle, radius: ds.pointRadius, rotation: ds.pointRotation, borderWidth: 1.3}, lx, ly);
      ctx.restore();
      ctx.fillStyle = '#000';
      ctx.fillText(ds.label, lx + 48, ly + 1);
    });
    // scale bar "5%"
    const sb0 = ys.getPixelForValue(scaleBarRange[0]), sb1 = ys.getPixelForValue(scaleBarRange[1]);
    ctx.strokeStyle = '#000'; ctx.lineWidth = 3.5;
    ctx.beginPath();
    ctx.moveTo(75, sb0); ctx.lineTo(75, sb1);
    ctx.moveTo(59, sb0); ctx.lineTo(89, sb0);
    ctx.moveTo(59, sb1); ctx.lineTo(89, sb1);
    ctx.stroke();
    ctx.font = '30px ' + SERIF; ctx.fillStyle = '#000'; ctx.textBaseline = 'middle';
    ctx.fillText('5%', 10, (sb0 + sb1)/2);
    // y axis label  R_a (%)
    ctx.translate(72, 422); ctx.rotate(-Math.PI/2);
    ctx.fillStyle = '#555'; ctx.textBaseline = 'alphabetic';
    ctx.font = 'italic 40px ' + SERIF; ctx.fillText('R', 0, 0);
    let w = ctx.measureText('R').width + 1;
    ctx.font = '30px ' + SERIF; ctx.fillText('a', w, 14);
    w += ctx.measureText('a').width;
    ctx.font = '40px ' + SERIF; ctx.fillText(' (%)', w, 0);
    ctx.restore();
  }
};

// ---------------- chart ----------------
new Chart(document.getElementById('c'), {
  type: 'scatter',
  data: { datasets },
  options: {
    responsive: true, maintainAspectRatio: false, animation: false, devicePixelRatio: 1,
    layout: { padding: { left: 109, right: 9, top: 15, bottom: 0 } },
    plugins: { legend: { display: false }, tooltip: { enabled: false } },
    scales: {
      x: {
        type: 'linear', position: 'bottom', min: 0.5, max: 4,
        grid: { display: false, drawTicks: false }, border: { display: false },
        ticks: {
          stepSize: 0.5, autoSkip: false, maxRotation: 0, padding: 12, color: '#444',
          font: { family: SERIF, size: 35 },
          callback: v => Number.isInteger(v) && v > 0.5 ? String(v) : ''
        },
        title: { display: true, text: 'Scattering angle 2θ (deg)', color: '#444',
                 font: { family: SERIF, size: 54, lineHeight: 0.9 }, padding: { top: 0, bottom: 2 } },
        afterFit: sc => { sc.height = 115; sc.paddingLeft = 0; sc.paddingRight = 0; }
      },
      y: { type: 'linear', min: -5.1, max: 32.15, display: false }
    }
  },
  plugins: [errorBars, decor]
});
</script></body></html>
